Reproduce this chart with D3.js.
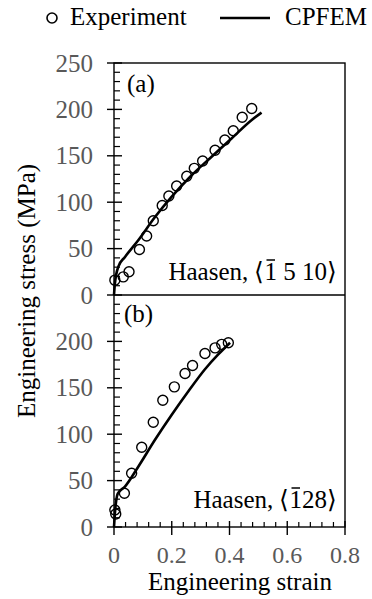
<!DOCTYPE html>
<html lang="en">
<head>
  <meta charset="UTF-8">
  <title>Haasen stress-strain</title>
  <script src="https://cdn.jsdelivr.net/npm/d3@7/dist/d3.min.js"></script>
  <style>
    body { margin: 0; background: #fff; }
  </style>
</head>
<body>
  <script>
    // Panel (a): Haasen, <-1 5 10>
    const expStrainA = [0.003, 0.032, 0.052, 0.088, 0.113, 0.136, 0.167, 0.19, 0.217, 0.252, 0.278, 0.307, 0.35, 0.384, 0.413, 0.444, 0.477];
    const expStressA = [16, 19.5, 25, 49, 63.5, 80, 96.5, 106.7, 117.5, 128, 136.5, 144.4, 156, 167, 177, 191.5, 201];
    const simStrainA = [0, 0.003, 0.015, 0.038, 0.084, 0.142, 0.2, 0.269, 0.338, 0.408, 0.477, 0.511];
    const simStressA = [0, 12, 30.5, 41, 59, 84, 106, 129, 149, 169, 188.6, 196.5];

    // Panel (b): Haasen, <-1 2 8>
    const expStrainB = [0.003, 0.006, 0.036, 0.061, 0.096, 0.136, 0.169, 0.209, 0.246, 0.272, 0.315, 0.35, 0.373, 0.396];
    const expStressB = [18.4, 14, 36.4, 58, 86, 112.8, 136.6, 151, 165.4, 174, 187, 193, 196.8, 198.6];
    const simStrainB = [0, 0.003, 0.013, 0.038, 0.084, 0.142, 0.2, 0.257, 0.315, 0.361, 0.402];
    const simStressB = [0, 14, 36, 43.6, 65, 94, 121, 146, 170, 186, 198.6];

    const xTicks = [0, 0.2, 0.4, 0.6, 0.8];
    const yTicksA = [0, 50, 100, 150, 200, 250];
    const yTicksB = [0, 50, 100, 150, 200];

    const W = 372, H = 599;
    const left = 114, right = 345, topA = 63, mid = 295, bottomB = 527;

    const svg = d3.select("body").append("svg")
      .attr("width", W).attr("height", H);

    // every text gets the serif face inline
    function txt(sel, size, fill) {
      return sel.style("font-family", "Liberation Serif")
        .style("font-size", size + "px")
        .style("fill", fill || "#000");
    }

    const x = d3.scaleLinear().domain([0, 0.8]).range([left, right]);
    const yA = d3.scaleLinear().domain([0, 250]).range([mid, topA]);
    const yB = d3.scaleLinear().domain([0, 250]).range([bottomB, mid]);

    // frame
    svg.append("rect")
      .attr("x", left).attr("y", topA)
      .attr("width", right - left).attr("height", bottomB - topA)
      .attr("fill", "none").attr("stroke", "#000").attr("stroke-width", 1.4);
    svg.append("line")
      .attr("x1", left).attr("x2", right)
      .attr("y1", mid).attr("y2", mid)
      .attr("stroke", "#000").attr("stroke-width", 1.4);

    // y axes: major ticks cross the axis, minor ticks point inwards
    function yAxis(scale, majors) {
      const g = svg.append("g");
      const minors = d3.range(0, 251, 10).filter(v => v % 50 !== 0);
      g.selectAll(".minor").data(minors).enter().append("line")
        .attr("x1", left).attr("x2", left + 6)
        .attr("y1", d => scale(d)).attr("y2", d => scale(d))
        .attr("stroke", "#000").attr("stroke-width", 1.2);
      g.selectAll(".major").data(majors).enter().append("line")
        .attr("x1", left - 7).attr("x2", left + 8)
        .attr("y1", d => scale(d)).attr("y2", d => scale(d))
        .attr("stroke", "#000").attr("stroke-width", 1.4);
      txt(g.selectAll(".tick-label").data(majors).enter().append("text")
        .attr("x", 93).attr("y", d => scale(d))
        .attr("dy", "0.34em")
        .attr("text-anchor", "end")
        .text(d => d), 25, "#595959");
    }
    yAxis(yA, yTicksA);
    yAxis(yB, yTicksB);

    // x axis of panel (b)
    const gx = svg.append("g");
    const xMinors = d3.range(0, 0.801, 0.04).filter(v => Math.abs(v * 5 - Math.round(v * 5)) > 1e-6);
    gx.selectAll(".minor").data(xMinors).enter().append("line")
      .attr("x1", d => x(d)).attr("x2", d => x(d))
      .attr("y1", bottomB).attr("y2", bottomB - 5)
      .attr("stroke", "#000").attr("stroke-width", 1.2);
    gx.selectAll(".major").data(xTicks).enter().append("line")
      .attr("x1", d => x(d)).attr("x2", d => x(d))
      .attr("y1", bottomB + 8).attr("y2", bottomB - 6)
      .attr("stroke", "#000").attr("stroke-width", 1.4);
    txt(gx.selectAll(".tick-label").data(xTicks).enter().append("text")
      .attr("x", d => x(d)).attr("y", 563)
      .attr("text-anchor", "middle")
      .text(d => d), 24, "#595959");

    // curves and points
    const line = d3.line().curve(d3.curveMonotoneX);
    function panel(yScale, es, ss, cs, cv) {
      svg.append("path")
        .attr("d", line(cs.map((v, i) => [x(v), yScale(cv[i])])))
        .attr("fill", "none").attr("stroke", "#000").attr("stroke-width", 2.6);
      svg.append("g").selectAll("circle").data(es).enter().append("circle")
        .attr("cx", d => x(d)).attr("cy", (d, i) => yScale(ss[i]))
        .attr("r", 5).attr("fill", "none")
        .attr("stroke", "#000").attr("stroke-width", 1.4);
    }
    panel(yA, expStrainA, expStressA, simStrainA, simStressA);
    panel(yB, expStrainB, expStressB, simStrainB, simStressB);

    // panel labels
    txt(svg.append("text").attr("x", 127).attr("y", 92).text("(a)"), 25);
    txt(svg.append("text").attr("x", 124).attr("y", 322).text("(b)"), 25);

    // direction labels with a bar over the 1
    function dirLabel(y, post) {
      const t = txt(svg.append("text").attr("x", 337).attr("y", y)
        .attr("text-anchor", "end"), 25);
      t.append("tspan").text("Haasen, \u27E8");
      t.append("tspan").text("1");
      t.append("tspan").text(post + "\u27E9");
      const n = ("Haasen, \u27E8").length;
      const ext = t.node().getExtentOfChar(n);
      svg.append("line")
        .attr("x1", ext.x + 2).attr("x2", ext.x + ext.width - 2)
        .attr("y1", y - 20).attr("y2", y - 20)
        .attr("stroke", "#000").attr("stroke-width", 1.5);
    }
    dirLabel(280, " 5 10");
    dirLabel(508, "28");

    // axis titles
    txt(svg.append("text").attr("x", 240).attr("y", 590)
      .attr("text-anchor", "middle")
      .text("Engineering strain"), 25);
    txt(svg.append("text")
      .attr("transform", "translate(35,291) rotate(-90)")
      .attr("text-anchor", "middle")
      .text("Engineering stress (MPa)"), 25);

    // legend
    svg.append("circle").attr("cx", 52).attr("cy", 18).attr("r", 5)
      .attr("fill", "none").attr("stroke", "#000").attr("stroke-width", 1.6);
    txt(svg.append("text").attr("x", 70).attr("y", 25).text("Experiment"), 25);
    svg.append("line").attr("x1", 220).attr("x2", 270)
      .attr("y1", 18).attr("y2", 18)
      .attr("stroke", "#000").attr("stroke-width", 2.6);
    txt(svg.append("text").attr("x", 285).attr("y", 25).text("CPFEM"), 25);
  </script>
</body>
</html>
